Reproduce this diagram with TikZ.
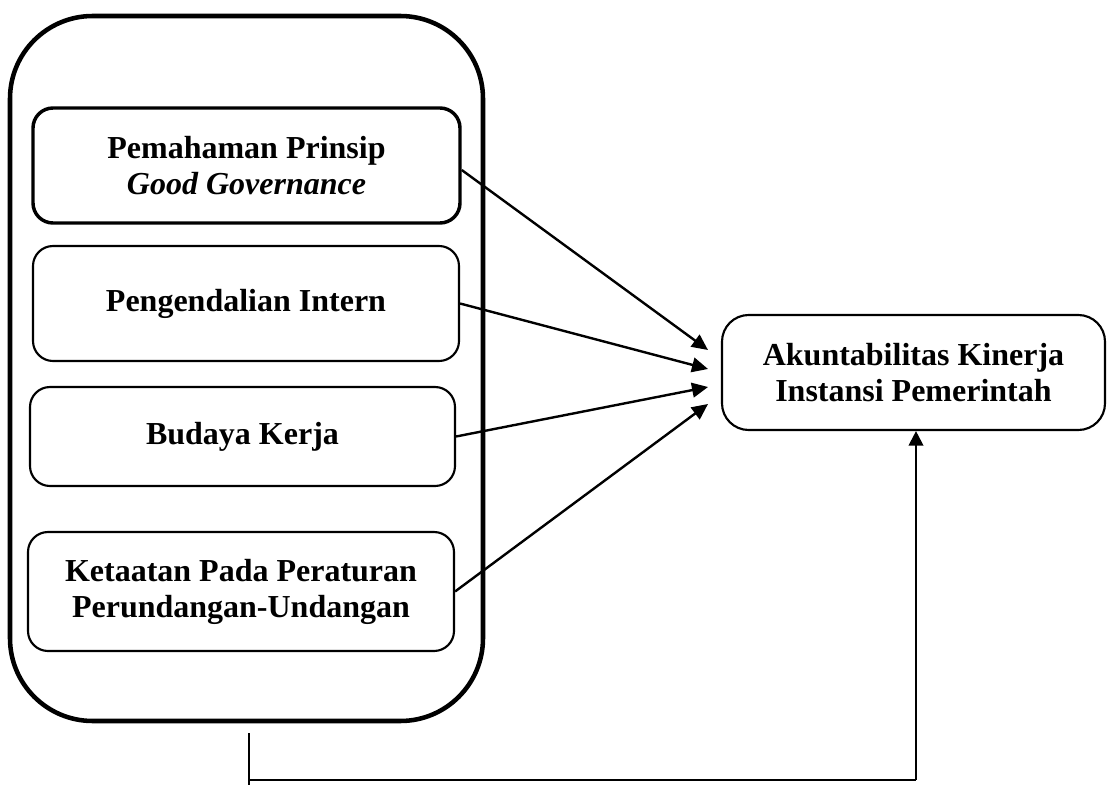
\documentclass[tikz,border=0pt]{standalone}
\usepackage{fontspec}
\setmainfont{Liberation Serif}
\usetikzlibrary{arrows.meta}
\tikzset{
  box/.style={draw, rounded corners=15pt, line width=1.6pt, align=center,
    font=\fontsize{24}{27}\selectfont\bfseries, inner sep=0pt},
  outerbox/.style={draw, rounded corners=62pt, line width=3.4pt},
  arr/.style={line width=1.8pt, -{Triangle[length=12pt,width=11pt]}},
  link/.style={line width=1.6pt}
}
\begin{document}
\begin{tikzpicture}[x=0.75pt,y=-0.75pt]
\useasboundingbox (0,0) rectangle (1108,785);
\node[outerbox, minimum width=354.75pt, minimum height=528.75pt] (outer) at (246.5,368.5) {};
\node[box, line width=2.6pt, minimum width=320.25pt, minimum height=86.25pt] (b1) at (246.5,165.5) {Pemahaman Prinsip\\\textit{Good Governance}};
\node[box, minimum width=319.5pt, minimum height=86.25pt] (b2) at (246,303.5) {Pengendalian Intern};
\node[box, minimum width=318.75pt, minimum height=74.25pt] (b3) at (242.5,436.5) {Budaya Kerja};
\node[box, minimum width=319.5pt, minimum height=89.25pt] (b4) at (241,591.5) {Ketaatan Pada Peraturan\\Perundangan-Undangan};
\node[box, rounded corners=20pt, minimum width=287.25pt, minimum height=86.25pt] (akip) at (913.5,372.5) {Akuntabilitas Kinerja\\Instansi Pemerintah};
\coordinate (t1) at (708,350);
\coordinate (t2) at (708,369);
\coordinate (t3) at (708,387);
\coordinate (t4) at (708,404);
\draw[arr] (b1.east |- 0,170) -- (t1);
\draw[arr] (b2.east) -- (t2);
\draw[arr] (b3.east) -- (t3);
\draw[arr] (b4.east) -- (t4);
\coordinate (s) at (249,733);
\coordinate (c) at (916,780);
\draw[link] (s) -- (249,785);
\draw[link] (249,780) -- (c);
\draw[arr, line width=1.6pt, -{Triangle[length=11pt,width=11pt]}] (c) -- (c |- akip.south);
\end{tikzpicture}
\end{document}
